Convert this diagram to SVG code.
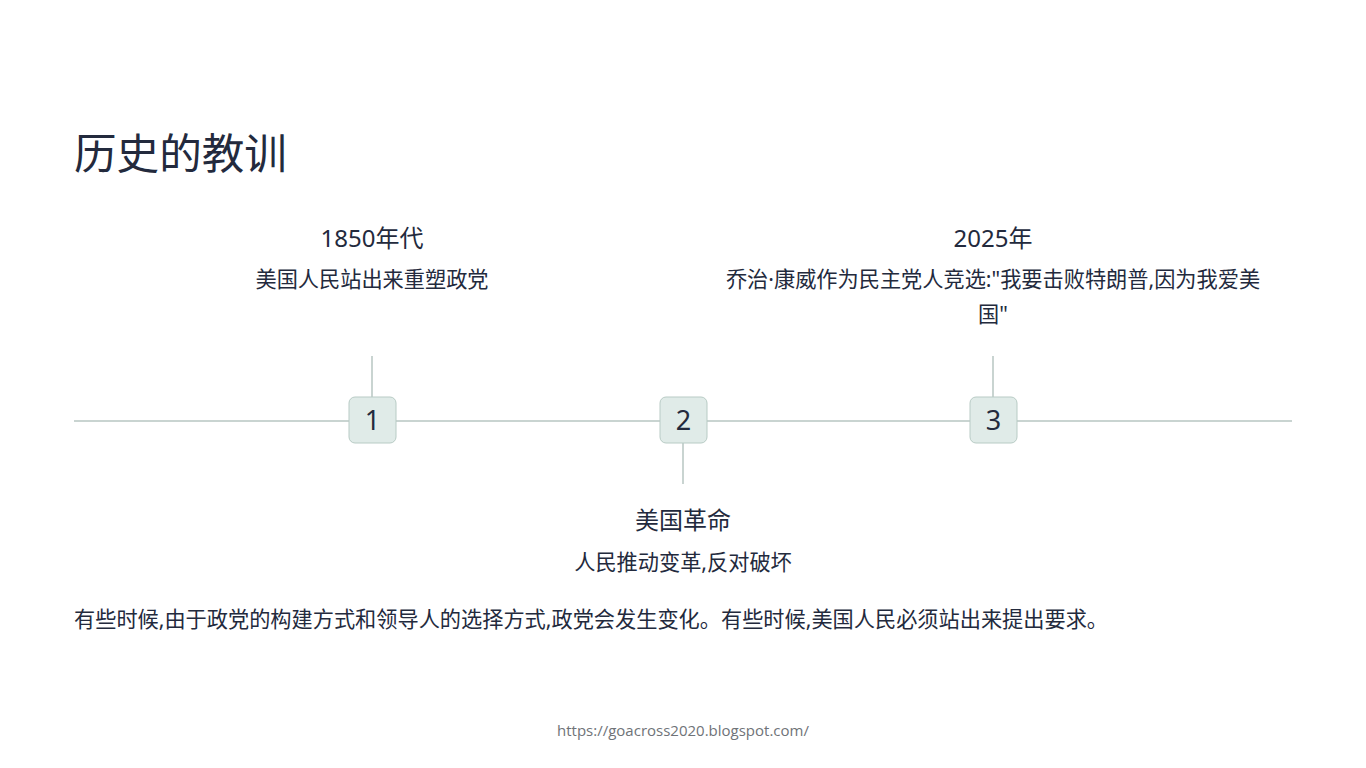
<svg xmlns="http://www.w3.org/2000/svg" width="1366" height="768" viewBox="0 0 1366 768">
<style>
text{font-family:"Noto Sans","Noto Sans CJK SC",sans-serif;fill:#232a3d}
.title{font-size:42.6px}
.head{font-size:24px;text-anchor:middle}
.sub{font-size:21.2px;text-anchor:middle}
.para{font-size:21.2px}
.num{font-size:27px;text-anchor:middle}
.foot{font-size:15px;fill:#6f7378;text-anchor:middle;font-family:"Open Sans","Noto Sans",sans-serif}
.line{stroke:#c9d4d1;stroke-width:2;fill:none}
.box{fill:#e0ebe8;stroke:#b8cbc5;stroke-width:1}
</style>
<rect width="1366" height="768" fill="#ffffff"/>
<text class="title" x="74" y="169">历史的教训</text>
<g id="connectors">
<line class="line" x1="74" y1="421" x2="1292" y2="421"/>
<line class="line" x1="372" y1="356" x2="372" y2="397"/>
<line class="line" x1="683" y1="443" x2="683" y2="484"/>
<line class="line" x1="993" y1="356" x2="993" y2="397"/>
</g>
<g id="node1">
<rect class="box" x="349" y="397" width="47" height="46" rx="6"/>
<text class="num" x="372.5" y="430">1</text>
<text class="head" x="372" y="247">1850年代</text>
<text class="sub" x="372" y="287">美国人民站出来重塑政党</text>
</g>
<g id="node2">
<rect class="box" x="660" y="397" width="47" height="46" rx="6"/>
<text class="num" x="683.5" y="430">2</text>
<text class="head" x="683" y="529">美国革命</text>
<text class="sub" x="683" y="570">人民推动变革,反对破坏</text>
</g>
<g id="node3">
<rect class="box" x="970" y="397" width="47" height="46" rx="6"/>
<text class="num" x="993.5" y="430">3</text>
<text class="head" x="993" y="247">2025年</text>
<text class="sub" x="993" y="287">乔治·康威作为民主党人竞选:"我要击败特朗普,因为我爱美</text>
<text class="sub" x="993" y="322">国"</text>
</g>
<text class="para" x="74" y="627">有些时候,由于政党的构建方式和领导人的选择方式,政党会发生变化。有些时候,美国人民必须站出来提出要求。</text>
<text class="foot" x="683" y="736">https://goacross2020.blogspot.com/</text>
</svg>
